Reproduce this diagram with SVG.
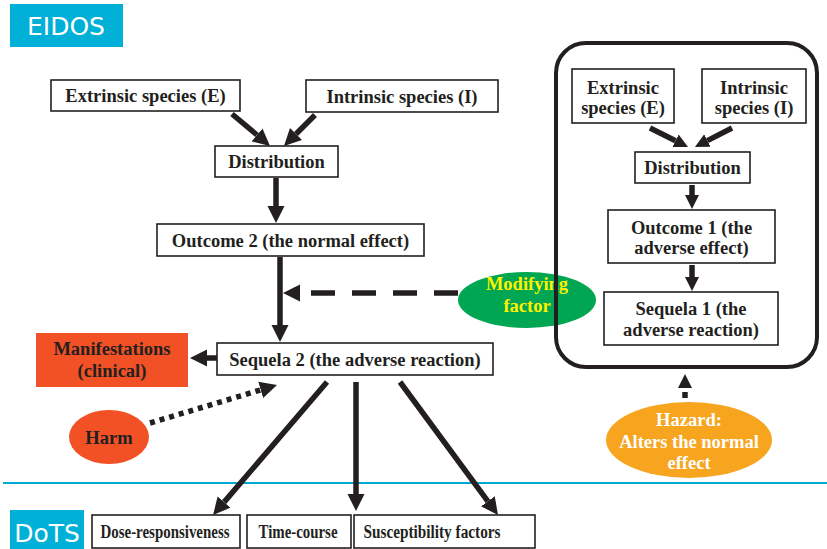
<svg xmlns="http://www.w3.org/2000/svg" width="827" height="549" viewBox="0 0 827 549">
<defs>
<style>
.box{fill:#fff;stroke:#231f20;stroke-width:1.6}
.t{font-family:"Liberation Serif","Times New Roman",serif;font-weight:bold;font-size:18.5px;fill:#231f20;text-anchor:middle}
.ts{font-family:"Liberation Serif","Times New Roman",serif;font-weight:bold;font-size:18.5px;fill:#231f20;text-anchor:middle}
.lbl{font-family:"DejaVu Sans",sans-serif;font-size:25px;fill:#fff;text-anchor:middle}
.c{stroke:#231f20;stroke-width:5.5;fill:none}
</style>
<marker id="ah" viewBox="0 0 10 10" refX="0" refY="5" markerWidth="17" markerHeight="18" markerUnits="userSpaceOnUse" orient="auto">
<path d="M0,0 L10,5 L0,10 z" fill="#231f20"/>
</marker>
<marker id="ahs" viewBox="0 0 10 10" refX="0" refY="5" markerWidth="14" markerHeight="16" markerUnits="userSpaceOnUse" orient="auto">
<path d="M0,0 L10,5 L0,10 z" fill="#231f20"/>
</marker>
</defs>
<rect width="827" height="549" fill="#fff"/>

<g id="eidos"><rect x="10" y="4" width="113" height="43" fill="#00b0d6"/><text class="lbl" x="66" y="35">EIDOS</text></g>
<g id="dots"><rect x="10" y="510" width="74" height="39" fill="#00b0d6"/><text class="lbl" x="47" y="542">DoTS</text></g>
<line id="divider" x1="3" y1="483" x2="827" y2="483" stroke="#00a9d4" stroke-width="2"/>

<g id="extrinsic"><rect class="box" x="51" y="80" width="189" height="31"/><text class="t" x="145.5" y="102">Extrinsic species (E)</text></g>
<g id="intrinsic"><rect class="box" x="306" y="80" width="192" height="32"/><text class="t" x="402" y="102.5">Intrinsic species (I)</text></g>
<g id="distribution"><rect class="box" x="215" y="146" width="123" height="31"/><text class="t" x="276.5" y="168">Distribution</text></g>
<g id="outcome2"><rect class="box" x="157" y="224" width="267" height="32"/><text class="t" x="290.5" y="246.5">Outcome 2 (the normal effect)</text></g>
<g id="sequela2"><rect class="box" x="217" y="343" width="276" height="32"/><text class="t" x="355" y="365.5">Sequela 2 (the adverse reaction)</text></g>
<g id="manifestations"><rect x="36" y="333" width="152" height="54" fill="#f15124"/><text class="t" x="112" y="354.5">Manifestations</text><text class="t" x="112" y="376.5">(clinical)</text></g>
<g id="harm"><ellipse cx="109" cy="437" rx="40" ry="27" fill="#f15124"/><text class="t" x="109" y="443.5">Harm</text></g>
<g id="modifying"><ellipse cx="527" cy="300" rx="69" ry="28" fill="#00a651"/><text class="t" x="527" y="289.5" style="fill:#fff200">Modifying</text><text class="t" x="527" y="311.5" style="fill:#fff200">factor</text></g>
<g id="hazard"><ellipse cx="689" cy="440" rx="83" ry="38" fill="#f7a51e"/><text class="t" x="689" y="426" style="fill:#fff">Hazard:</text><text class="t" x="689" y="448" style="fill:#fff">Alters the normal</text><text class="t" x="689" y="469" style="fill:#fff">effect</text></g>
<g id="dose"><rect class="box" x="92" y="515" width="148" height="33"/><text class="ts" x="165" y="538" textLength="129" lengthAdjust="spacingAndGlyphs">Dose-responsiveness</text></g>
<g id="timecourse"><rect class="box" x="247" y="515" width="104" height="33"/><text class="ts" x="298" y="538" textLength="79" lengthAdjust="spacingAndGlyphs">Time-course</text></g>
<g id="susceptibility"><rect class="box" x="354" y="515" width="181" height="33"/><text class="ts" x="432" y="538" textLength="137" lengthAdjust="spacingAndGlyphs">Susceptibility factors</text></g>

<g id="eidos-model">
<rect x="556" y="43" width="261" height="324" rx="30" ry="30" fill="none" stroke="#231f20" stroke-width="4"/>
<g id="r-extrinsic"><rect class="box" x="572" y="69" width="102" height="54"/><text class="t" x="623" y="93.5">Extrinsic</text><text class="t" x="623" y="114">species (E)</text></g>
<g id="r-intrinsic"><rect class="box" x="702" y="69" width="104" height="54"/><text class="t" x="754" y="93.5">Intrinsic</text><text class="t" x="754" y="114">species (I)</text></g>
<g id="r-distribution"><rect class="box" x="635" y="152" width="115" height="31"/><text class="t" x="692.5" y="173.5">Distribution</text></g>
<g id="r-outcome1"><rect class="box" x="608" y="210" width="167" height="53"/><text class="t" x="691.5" y="233.5">Outcome 1 (the</text><text class="t" x="691.5" y="254">adverse effect)</text></g>
<g id="r-sequela1"><rect class="box" x="604" y="292" width="174" height="53"/><text class="t" x="691" y="314.5">Sequela 1 (the</text><text class="t" x="691" y="336">adverse reaction)</text></g>
</g>

<g id="connectors">
<line class="c" x1="232" y1="114" x2="257" y2="135" marker-end="url(#ah)"/>
<line class="c" x1="315" y1="115" x2="296" y2="134" marker-end="url(#ah)"/>
<line class="c" x1="276" y1="178" x2="276" y2="206" marker-end="url(#ah)"/>
<line class="c" x1="280" y1="257" x2="280" y2="325" marker-end="url(#ah)"/>
<line class="c" x1="458" y1="293" x2="300" y2="293" stroke-dasharray="24 17" marker-end="url(#ah)"/>
<line class="c" x1="217" y1="358" x2="207" y2="358" marker-end="url(#ah)"/>
<line class="c" x1="150" y1="423" x2="260.7" y2="389.9" stroke-dasharray="5 5" marker-end="url(#ah)"/>
<line class="c" x1="327" y1="382" x2="224.1" y2="502.1" marker-end="url(#ah)"/>
<line class="c" x1="356" y1="382" x2="356" y2="494" marker-end="url(#ah)"/>
<line class="c" x1="400" y1="382" x2="487.9" y2="501.3" marker-end="url(#ah)"/>
<line class="c" x1="650" y1="128" x2="675.5" y2="140.7" marker-end="url(#ahs)"/>
<line class="c" x1="732" y1="128" x2="707.4" y2="140.6" marker-end="url(#ahs)"/>
<line class="c" x1="692" y1="185" x2="692" y2="195" marker-end="url(#ahs)"/>
<line class="c" x1="692" y1="265" x2="692" y2="277" marker-end="url(#ahs)"/>
<line class="c" x1="685" y1="398" x2="685" y2="388" stroke-dasharray="6 4" marker-end="url(#ahs)"/>
</g>
</svg>
